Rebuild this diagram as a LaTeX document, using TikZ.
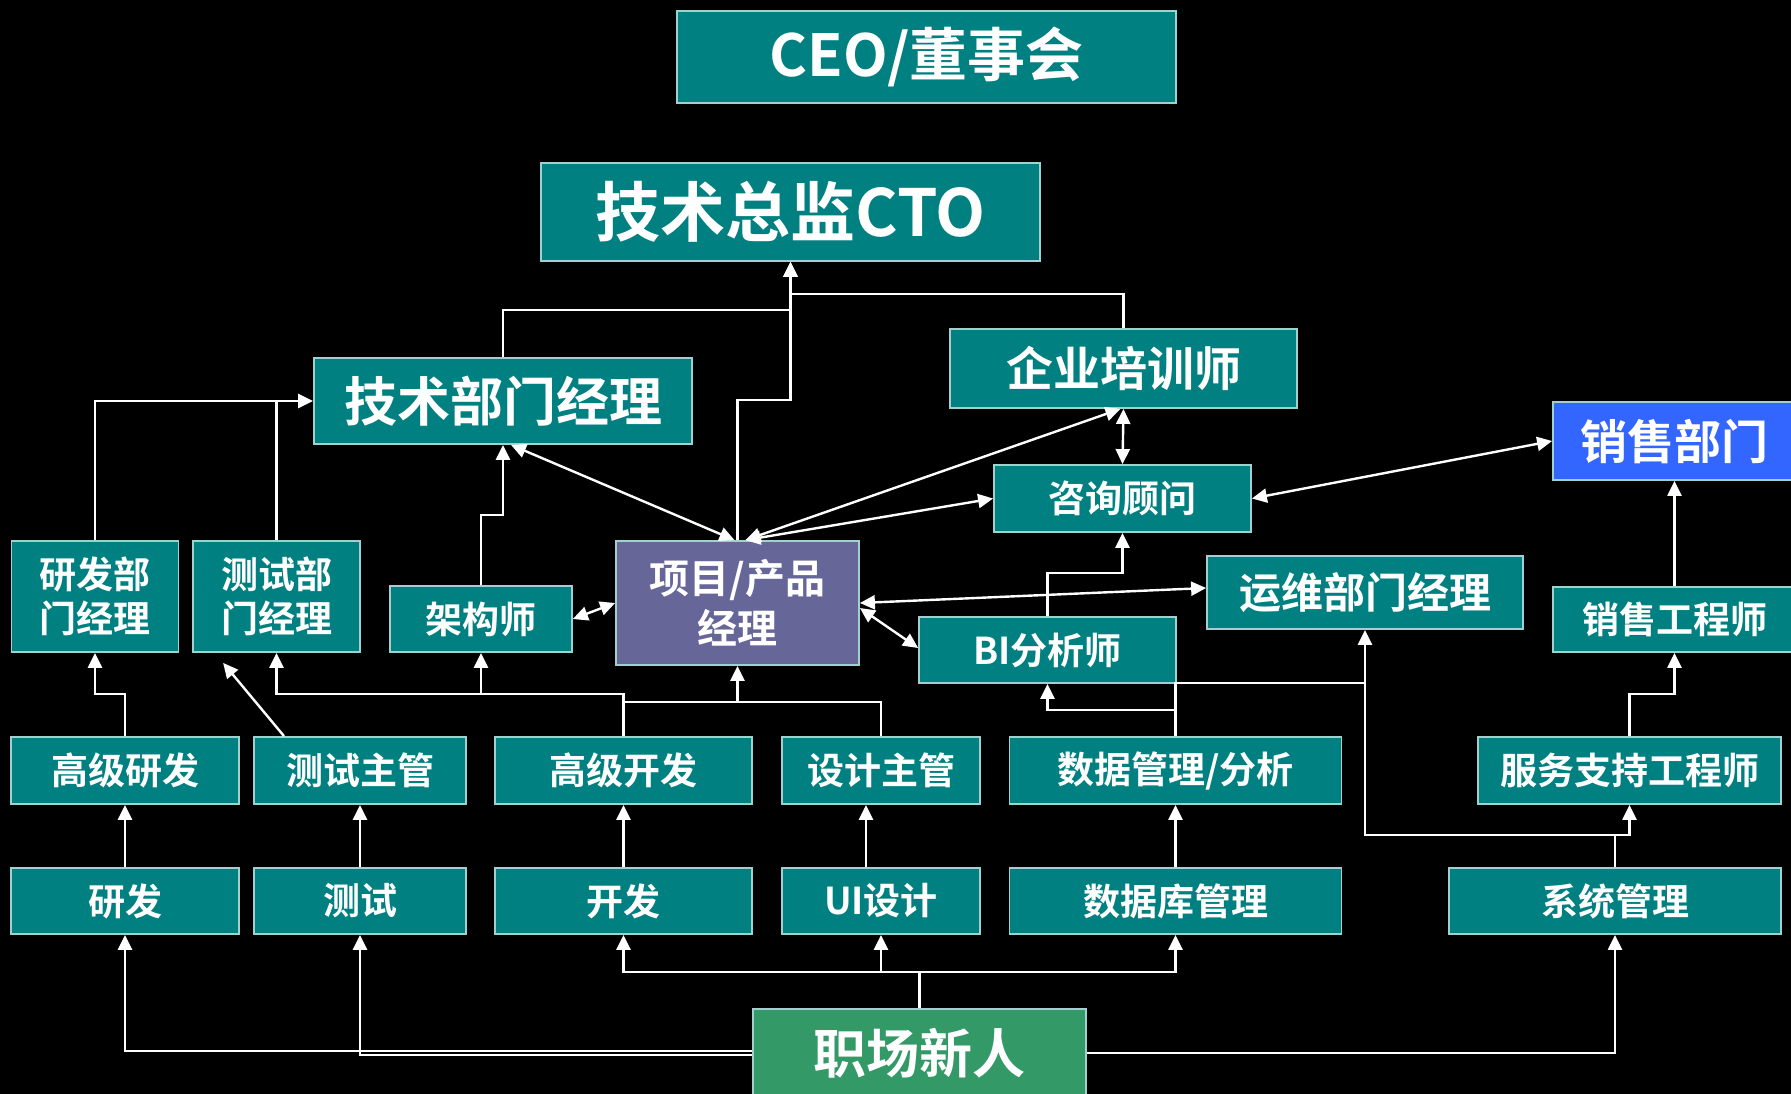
\documentclass[tikz,border=0pt]{standalone}
\usepackage{fontspec}
\newfontfamily\cjk{Noto Sans CJK SC}[BoldFont={Noto Sans CJK SC Bold}]
\usetikzlibrary{arrows.meta}
\definecolor{teal1}{HTML}{008080}
\definecolor{bord}{HTML}{A0D0D0}
\definecolor{purp}{HTML}{666699}
\definecolor{blue1}{HTML}{3366FF}
\definecolor{green1}{HTML}{339966}
\begin{document}
\begin{tikzpicture}[x=1pt,y=-1pt,
  box/.style={draw=bord, line width=1.8pt, fill=teal1, text=white, inner sep=0pt, align=center},
  fs/.style n args={2}{font={\cjk\bfseries\fontsize{#1}{#2}\selectfont}},
  ln/.style={draw=white, line width=2.4pt},
  arr/.style={ln, -{Triangle[length=15pt,width=14pt]}},
  darr/.style={ln, {Triangle[length=15pt,width=14pt]}-{Triangle[length=15pt,width=14pt]}},
  ]
\fill[black] (0,0) rectangle (1791,1094);
\useasboundingbox (0,0) rectangle (1791,1094);

% nodes
\node[box, minimum width=499pt, minimum height=92pt, fs={58pt}{62pt}] (ceo) at (926.5,57) {CEO/董事会};
\node[box, minimum width=499pt, minimum height=98pt, fs={65pt}{70pt}] (cto) at (790.5,212) {技术总监CTO};
\node[box, minimum width=378pt, minimum height=86pt, fs={53pt}{58pt}] (jsbm) at (503,401) {技术部门经理};
\node[box, minimum width=347pt, minimum height=79pt, fs={47pt}{50pt}] (pxs) at (1123.5,368.5) {企业培训师};
\node[box, fill=blue1, minimum width=243pt, minimum height=78pt, fs={47pt}{50pt}] (xs) at (1674.5,441) {销售部门};
\node[box, minimum width=257pt, minimum height=67pt, fs={37pt}{40pt}] (zx) at (1122.5,498.5) {咨询顾问};
\node[box, minimum width=167pt, minimum height=111pt, fs={37pt}{44pt}] (yfbm) at (95,596.5) {研发部\\门经理};
\node[box, minimum width=167pt, minimum height=111pt, fs={37pt}{44pt}] (csbm) at (276.5,596.5) {测试部\\门经理};
\node[box, minimum width=182pt, minimum height=66pt, fs={37pt}{40pt}] (jgs) at (481,619) {架构师};
\node[box, fill=purp, minimum width=243pt, minimum height=124pt, fs={40pt}{50pt}] (xm) at (737.5,603) {项目/产品\\经理};
\node[box, minimum width=316pt, minimum height=73pt, fs={42pt}{45pt}] (yw) at (1365,592.5) {运维部门经理};
\node[box, minimum width=257pt, minimum height=66pt, fs={37pt}{40pt}] (bi) at (1047.5,650) {BI分析师};
\node[box, minimum width=243pt, minimum height=65pt, fs={37pt}{40pt}] (xsgcs) at (1674.5,619.5) {销售工程师};

\node[box, minimum width=227.5pt, minimum height=67pt, fs={37pt}{40pt}] (gjyf) at (125,770.5) {高级研发};
\node[box, minimum width=212pt, minimum height=67pt, fs={37pt}{40pt}] (cszg) at (360,770.5) {测试主管};
\node[box, minimum width=257pt, minimum height=67pt, fs={37pt}{40pt}] (gjkf) at (623.5,770.5) {高级开发};
\node[box, minimum width=198pt, minimum height=67pt, fs={37pt}{40pt}] (sjzg) at (881,770.5) {设计主管};
\node[box, minimum width=332pt, minimum height=67pt, fs={37pt}{40pt}] (sjgl) at (1175.5,770.5) {数据管理/分析};
\node[box, minimum width=303pt, minimum height=67pt, fs={37pt}{40pt}] (fwzc) at (1629.5,770.5) {服务支持工程师};

\node[box, minimum width=227.5pt, minimum height=66pt, fs={37pt}{40pt}] (yf) at (125,901) {研发};
\node[box, minimum width=212pt, minimum height=66pt, fs={37pt}{40pt}] (cs) at (360,901) {测试};
\node[box, minimum width=257pt, minimum height=66pt, fs={37pt}{40pt}] (kf) at (623.5,901) {开发};
\node[box, minimum width=198pt, minimum height=66pt, fs={37pt}{40pt}] (ui) at (881,901) {UI设计};
\node[box, minimum width=332pt, minimum height=66pt, fs={37pt}{40pt}] (sjk) at (1175.5,901) {数据库管理};
\node[box, minimum width=332.5pt, minimum height=66pt, fs={37pt}{40pt}] (xtgl) at (1615,901) {系统管理};

\node[box, fill=green1, minimum width=333pt, minimum height=88pt, fs={53pt}{58pt}] (zc) at (919.5,1053) {职场新人};

% connectors to CTO
\draw[arr] (jsbm.north) -- (503,310) -- (790.5,310) -- (cto.south);
\draw[arr] (pxs.north) -- (1123.5,294) -- (790.5,294) -- (cto.south);
\draw[arr] (xm.north) -- (737.5,400) -- (790.5,400) -- (cto.south);

% to jsbm
\draw[arr] (yfbm.north) |- (jsbm.west);
\draw[ln] (csbm.north) -- (276.5,401);
\draw[arr] (jgs.north) -- (481,515) -- (503,515) -- (jsbm.south);

% double arrows around xm
\draw[darr] ([xshift=8pt]jsbm.south) -- ([xshift=-3pt]xm.north);
\draw[darr] (jgs.east) -- (xm.west);
\draw[darr] ([xshift=8pt]xm.north) -- ([xshift=-3pt]pxs.south);
\draw[darr] ([xshift=8pt]xm.north) -- (zx.west);
\draw[darr] (pxs.south) -- (zx.north);
\draw[darr] (zx.east) -- (xs.west);
\draw[darr] (xm.east) -- ([yshift=4.5pt]yw.west);
\draw[darr] ([yshift=-5pt]xm.east) -- ([yshift=2pt]bi.west);

\draw[arr] (bi.north) -- (1047.5,573) -- (1122.5,573) -- (zx.south);
\draw[arr] (xsgcs.north) -- (xs.south);
\draw[arr] (fwzc.north) -- (1629.5,694) -- (1674.5,694) -- (xsgcs.south);

% row 2 to row 1
\draw[arr] (gjyf.north) -- (125,694) -- (95,694) -- (yfbm.south);
\coordinate (csEnd) at ([xshift=31pt,yshift=-10pt]csbm.south west);
\draw[arr] ([xshift=-76pt]cszg.north) -- (csEnd);
\draw[arr] (gjkf.north) -- (623.5,694) -- (276.5,694) -- (csbm.south);
\coordinate (jgsJ) at (481,694);
\draw[arr] (jgsJ) -- (jgs.south);
\draw[ln] (gjkf.north) -- (623.5,702) -- (881,702) -- (sjzg.north);
\coordinate (xmJ) at (737.5,702);
\draw[arr] (xmJ) -- (xm.south);
\draw[arr] (sjgl.north) -- (1175.5,683) -- (1365,683) -- (yw.south);
\coordinate (biJ) at (1175.5,710);
\draw[arr] (biJ) -- (1047.5,710) -- (bi.south);
\draw[arr] (xtgl.north) -- (1615,835) -- (1629.5,835) -- (fwzc.south);
\draw[ln] (1615,835) -- (1365,835) -- (1365,683);

% row 3 to row 2
\draw[arr] (yf.north) -- (gjyf.south);
\draw[arr] (cs.north) -- (cszg.south);
\draw[arr] (kf.north) -- (gjkf.south);
\draw[arr] ([xshift=-15pt]ui.north) -- ([xshift=-15pt]sjzg.south);
\draw[arr] (sjk.north) -- (sjgl.south);

% from zc
\draw[arr] (zc.north) -- (919.5,972) -- (623.5,972) -- (kf.south);
\draw[arr] (zc.north) -- (919.5,972) -- (1175.5,972) -- (sjk.south);
\coordinate (uiJ) at (881,972);
\draw[arr] (uiJ) -- (ui.south);
\draw[arr] ([yshift=2pt]zc.west) -- (125,1051) -- (yf.south);
\draw[arr] ([yshift=-2pt]zc.west) -- (360,1055) -- (cs.south);
\draw[arr] (zc.east) -- (1615,1053) -- (xtgl.south);
\end{tikzpicture}
\end{document}
